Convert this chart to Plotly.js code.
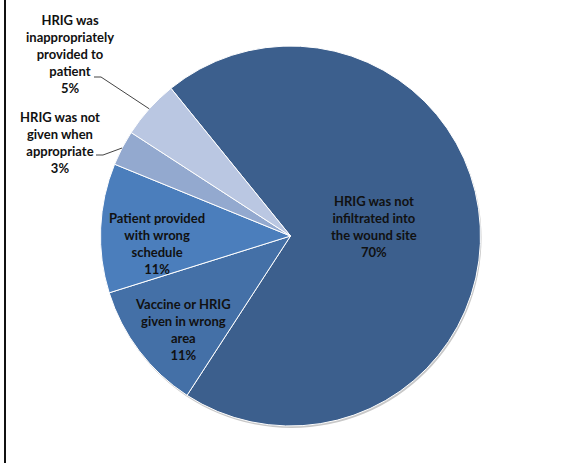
<!DOCTYPE html>
<html>
<head>
<meta charset="utf-8">
<script src="https://cdn.plot.ly/plotly-3.0.1.min.js"></script>
<style>html,body{margin:0;padding:0;background:#fff;}#chart{width:570px;height:463px;}</style>
</head>
<body>
<div id="chart"></div>
<script>
// Data
var labels = [
  "HRIG was not<br>infiltrated into<br>the wound site",
  "Vaccine or HRIG<br>given in wrong<br>area",
  "Patient provided<br>with wrong<br>schedule",
  "HRIG was not<br>given when<br>appropriate",
  "HRIG was<br>inappropriately<br>provided to<br>patient"
];
var values = [70, 11, 11, 3, 5];
var pctLabels = ["70%", "11%", "11%", "3%", "5%"];
var colors = ["#3C5F8D", "#4470A7", "#4B7EBC", "#93A9CF", "#BAC7E2"];

var W = 570, H = 463;
var cx = 290.5, cy = 236, R = 190;
var rotation = -39;

function px(x){ return x / W; }
function py(y){ return 1 - y / H; }

// label block positions (pixel) and whether outside
var labelPos = [
  {x: 374, y: 226, out: false},
  {x: 183, y: 329, out: false},
  {x: 157, y: 243, out: false},
  {x: 60,  y: 143, out: true, tx: 96,  ty: 155},
  {x: 70,  y: 54,  out: true, tx: 94,  ty: 77}
];

var total = values.reduce(function(a,b){return a+b;}, 0);
var annotations = [];
var shapes = [];
var cum = 0;
for (var i = 0; i < values.length; i++) {
  var mid = rotation + (cum + values[i] / 2) / total * 360;
  cum += values[i];
  var p = labelPos[i];
  annotations.push({
    xref: 'paper', yref: 'paper', x: px(p.x), y: py(p.y),
    xanchor: 'center', yanchor: 'middle', showarrow: false,
    align: 'center',
    text: '<b>' + labels[i] + '<br>' + pctLabels[i] + '</b>',
    font: {family: 'Lato, "Open Sans", sans-serif', size: 13, color: '#111111'}
  });
  if (p.out) {
    var a = mid * Math.PI / 180;
    var ex = cx + R * Math.sin(a), ey = cy - R * Math.cos(a);
    shapes.push({
      type: 'path', xref: 'paper', yref: 'paper',
      path: 'M ' + px(p.tx) + ',' + py(p.ty) + ' L ' + px(p.tx + 7) + ',' + py(p.ty) + ' L ' + px(ex) + ',' + py(ey),
      line: {color: '#444', width: 1}
    });
  }
}
// left frame line
shapes.push({type: 'line', xref: 'paper', yref: 'paper', x0: px(5), x1: px(5), y0: 0, y1: 1, line: {color: '#111', width: 2}});
// subtle shadow behind pie
shapes.push({type: 'circle', xref: 'paper', yref: 'paper', layer: 'below',
  x0: px(cx - R + 1), x1: px(cx + R + 1), y0: py(cy + R + 2), y1: py(cy - R + 2),
  fillcolor: '#c8c8c8', line: {width: 0}});

var trace = {
  type: 'pie',
  labels: labels,
  values: values,
  sort: false,
  direction: 'clockwise',
  rotation: rotation,
  textinfo: 'none',
  hoverinfo: 'none',
  marker: {colors: colors, line: {color: '#ffffff', width: 1}},
  domain: {x: [px(cx - R), px(cx + R)], y: [py(cy + R), py(cy - R)]},
  showlegend: false
};

var layout = {
  width: W, height: H,
  margin: {l: 0, r: 0, t: 0, b: 0},
  paper_bgcolor: '#ffffff',
  showlegend: false,
  annotations: annotations,
  shapes: shapes
};

Plotly.newPlot('chart', [trace], layout, {displayModeBar: false, staticPlot: true});
</script>
</body>
</html>
